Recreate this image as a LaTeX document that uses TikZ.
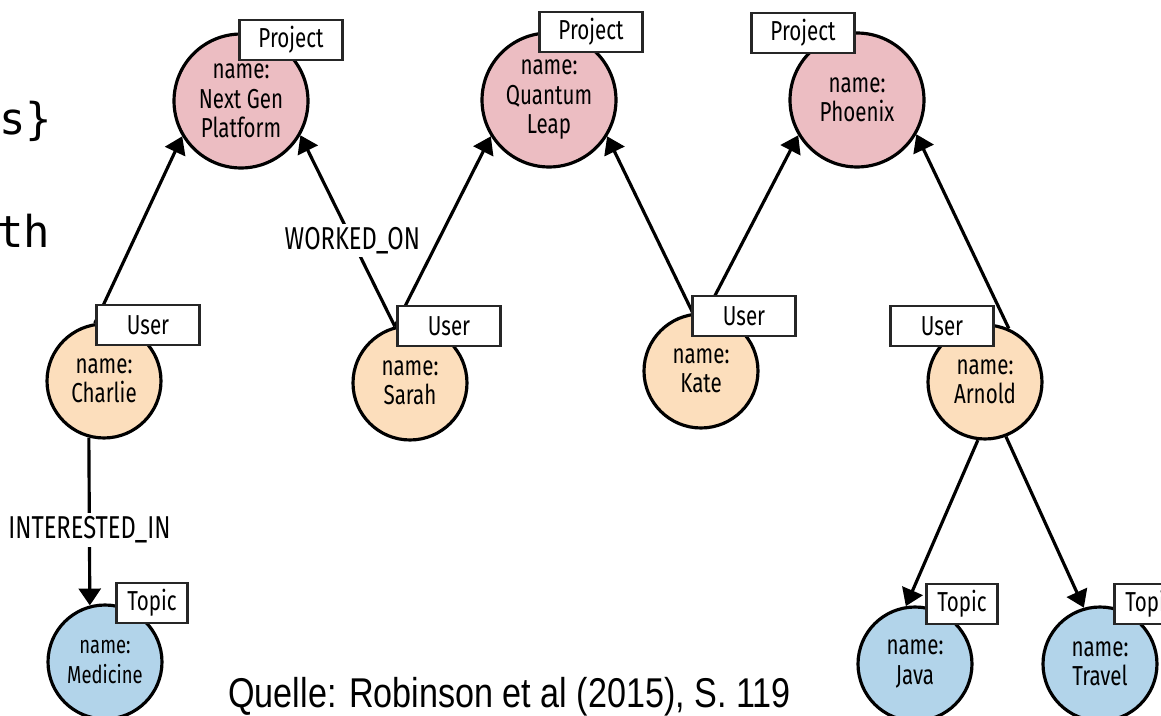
\documentclass[tikz,border=0pt]{standalone}
\usepackage{fontspec}
\newfontfamily\neofont{Fira Sans}[FakeStretch=0.75]
\newfontfamily\capfont{Liberation Sans}[FakeStretch=0.82]
\newfontfamily\slidemono{DejaVu Sans Mono}
\usepackage{xcolor}
\usepackage{tikz}
\usetikzlibrary{arrows.meta, positioning}

\definecolor{projpink}{RGB}{236,189,194}
\definecolor{userpeach}{RGB}{252,222,188}
\definecolor{topicblue}{RGB}{178,212,234}

\begin{document}
\begin{tikzpicture}[
        x=0.02cm, y=-0.02cm,
        project/.style={
            circle,
            draw,
            line width=1.8pt,
            fill=projpink,
            minimum size=2.68cm,
            inner sep=0pt,
            align=center,
            font=\neofont\fontsize{15.6}{16.8}\selectfont
        },
        user/.style={project, fill=userpeach, minimum size=2.28cm},
        topic/.style={project, fill=topicblue, minimum size=2.28cm},
        kind/.style={
            rectangle,
            draw=black!85,
            fill=white,
            line width=1.6pt,
            minimum width=2.06cm,
            minimum height=0.8cm,
            inner sep=0pt,
            font=\neofont\fontsize{15.6}{16.8}\selectfont
        },
        rel/.style={line width=1.8pt, -{Triangle[length=9.6pt, width=12.5pt]}},
        rellabel/.style={fill=white, inner sep=2pt, font=\neofont\fontsize{18}{20}\selectfont}
    ]
    \useasboundingbox (0,0) rectangle (1161,716);

    \node[project] (nextgen) at (241, 101) {name:\\Next Gen\\Platform};
    \node[project] (quantum) at (549, 100) {name:\\Quantum\\Leap};
    \node[project] (phoenix) at (857, 100) {name:\\Phoenix};

    \node[user] (charlie) at (104, 381) {name:\\Charlie};
    \node[user] (sarah) at (410, 383) {name:\\Sarah};
    \node[user] (kate) at (701, 371) {name:\\Kate};
    \node[user] (arnold) at (985, 382) {name:\\Arnold};

    \node[topic, font=\neofont\fontsize{14}{16.8}\selectfont] (medicine) at (105, 662) {name:\\Medicine};
    \node[topic] (java) at (915, 664) {name:\\Java};
    \node[topic] (travel) at (1100, 664) {name:\\Travel};

    % Relationships
    \draw[rel] (charlie.99) -- (nextgen.211);
    \draw[rel] (sarah.105) -- node[rellabel, pos=0.45] {WORKED\_ON} (nextgen.330);
    \draw[rel] (sarah.105) -- (quantum.212);
    \draw[rel] (kate.98) -- (quantum.328);
    \draw[rel] (kate.85) -- (phoenix.211);
    \draw[rel] (arnold.66) -- (phoenix.330);
    \draw[rel] (arnold.263) -- (java.99);
    \draw[rel] (arnold.291) -- (travel.106);
    \draw[rel] (charlie.255) -- node[rellabel, pos=0.55] {INTERESTED\_IN} (medicine.105);

    % Labels
    \node[kind] (nextgenkind) at (291, 40) {Project};
    \node[kind] (quantumkind) at (591, 32) {Project};
    \node[kind] (phoenixkind) at (803, 33) {Project};
    \node[kind] (charliekind) at (148, 325) {User};
    \node[kind] (sarahkind) at (449, 326) {User};
    \node[kind] (katekind) at (744, 316) {User};
    \node[kind] (arnoldkind) at (942, 326) {User};
    \node[kind, minimum width=1.42cm] (medicinekind) at (152, 603) {Topic};
    \node[kind, minimum width=1.42cm] (javakind) at (962, 604) {Topic};
    \node[kind, minimum width=1.42cm] (travelkind) at (1150, 604) {Topic};

    % slide text
    \node[font=\slidemono\fontsize{25}{30}\selectfont, anchor=base west, inner sep=0pt] (slidea) at (-1, 135) {s\}};
    \node[font=\slidemono\fontsize{25}{30}\selectfont, anchor=base west, inner sep=0pt] (slideb) at (-3, 248) {th};
    \node[font=\capfont\fontsize{23.7}{28}\selectfont, anchor=base west, inner sep=0pt] (source) at (228, 707) {Quelle: Robinson et al (2015), S. 119};

\end{tikzpicture}
\end{document}
